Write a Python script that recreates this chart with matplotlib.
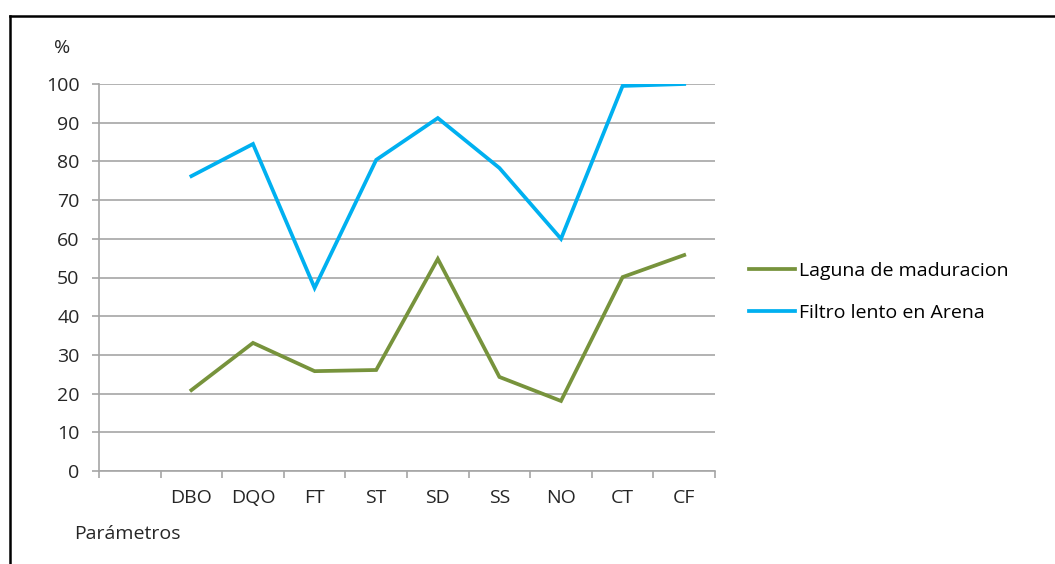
import numpy as np
import matplotlib
matplotlib.use("Agg")
import matplotlib.pyplot as plt
from matplotlib.lines import Line2D

plt.rcParams['font.family'] = ['Open Sans', 'DejaVu Sans']

# Datos
parametros = ["DBO", "DQO", "FT", "ST", "SD", "SS", "NO", "CT", "CF"]
laguna = [20.9, 33.1, 25.8, 26.1, 54.8, 24.3, 18.1, 50.1, 55.8]
filtro = [76.2, 84.5, 47.3, 80.4, 91.2, 78.3, 60.0, 99.5, 100.0]
y_ticks = [0, 10, 20, 30, 40, 50, 60, 70, 80, 90, 100]

verde = "#77933C"
azul = "#00B0F0"
gris = "#A6A6A6"
texto = "#262626"
fs = 14

fig = plt.figure(figsize=(10.55, 5.64), dpi=100)
ax = fig.add_axes([99 / 1055, 1 - 471 / 564, 616 / 1055, 387 / 564])

x = np.arange(1, len(parametros) + 1)
ax.plot(x, laguna, color=verde, lw=2.7, label="Laguna de maduracion", solid_joinstyle="miter")
ax.plot(x, filtro, color=azul, lw=2.7, label="Filtro lento en Arena", solid_joinstyle="miter")

ax.set_xlim(-0.5, len(parametros) + 0.5)
ax.set_ylim(0, 100)

# eje y y rejilla
ax.set_yticks(y_ticks)
ax.yaxis.grid(True, color=gris, lw=1.2)
ax.set_axisbelow(True)
ax.tick_params(axis="y", length=5, width=1.2, color=gris, pad=9, labelsize=fs, labelcolor=texto)

# eje x: etiquetas centradas y marcas entre categorias
ax.set_xticks(x)
ax.set_xticklabels(parametros)
ax.set_xticks(np.arange(-0.5, len(parametros) + 1), minor=True)
ax.tick_params(axis="x", which="major", length=0, pad=13, labelsize=fs, labelcolor=texto)
ax.tick_params(axis="x", which="minor", length=5, width=1.2, color=gris, direction="out")

for s in ["top", "right"]:
    ax.spines[s].set_visible(False)
for s in ["left", "bottom"]:
    ax.spines[s].set_color(gris)
    ax.spines[s].set_linewidth(1.2)

fig.text(62 / 1055, 1 - 48 / 564, "%", fontsize=fs, ha="center", va="center", color=texto)
fig.text(74 / 1055, 1 - 534 / 564, "Parámetros", fontsize=fs, ha="left", va="center", color=texto)

# leyenda
leg = ax.legend(handles=[ax.lines[0], ax.lines[1]], frameon=False, fontsize=fs,
                loc="center left", bbox_to_anchor=(749 / 1055, 1 - 292 / 564),
                bbox_transform=fig.transFigure, handlelength=2.35, handletextpad=0.2,
                labelspacing=1.25, borderaxespad=0, borderpad=0)

# marco
fig.add_artist(Line2D([9.5 / 1055, 1.0], [1 - 15.5 / 564] * 2, color="black", lw=1.8))
fig.add_artist(Line2D([9.5 / 1055] * 2, [0, 1 - 15.5 / 564], color="black", lw=1.8))

fig.savefig("out.png", dpi=100)
